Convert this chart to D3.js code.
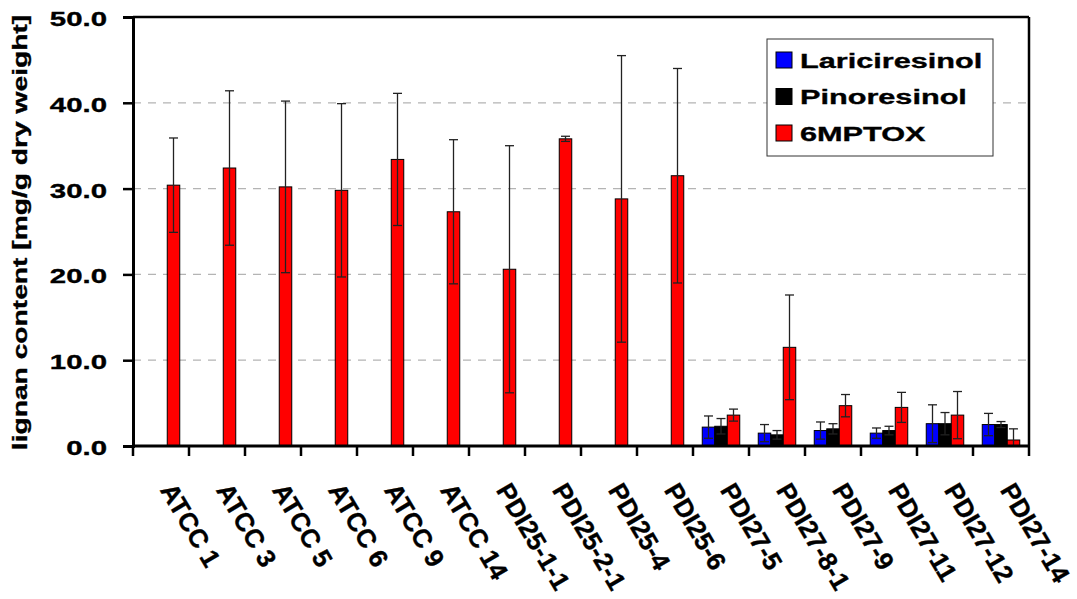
<!DOCTYPE html>
<html>
<head>
<meta charset="utf-8">
<script src="https://cdn.jsdelivr.net/npm/d3@7"></script>
<style>
  html, body { margin: 0; padding: 0; background: #fff; }
  svg { display: block; font-family: "Liberation Sans", Arial, sans-serif; }
  text.lbl { font-weight: bold; fill: #000; stroke: #000; stroke-width: 0.35px; }
</style>
</head>
<body>
<svg id="chart" width="1077" height="599"></svg>
<script>
const categories = ["ATCC 1","ATCC 3","ATCC 5","ATCC 6","ATCC 9","ATCC 14","PDI25-1-1","PDI25-2-1","PDI25-4","PDI25-6","PDI27-5","PDI27-8-1","PDI27-9","PDI27-11","PDI27-12","PDI27-14"];
const seriesNames = ["Lariciresinol","Pinoresinol","6MPTOX"];
const seriesColors = ["#0000FF","#000000","#FF0000"];
const lariciresinol = [null,null,null,null,null,null,null,null,null,null,2.2,1.5,1.8,1.5,2.6,2.5];
const lariciresinolErr = [null,null,null,null,null,null,null,null,null,null,1.3,1.0,1.0,0.6,2.2,1.3];
const pinoresinol = [null,null,null,null,null,null,null,null,null,null,2.3,1.3,2.0,1.8,2.6,2.5];
const pinoresinolErr = [null,null,null,null,null,null,null,null,null,null,0.9,0.5,0.6,0.5,1.3,0.35];
const mptox = [30.4,32.4,30.2,29.8,33.4,27.3,20.6,35.8,28.8,31.5,3.6,11.5,4.7,4.5,3.6,0.7];
const mptoxErr = [5.5,9.0,10.0,10.1,7.7,8.4,14.4,0.3,16.7,12.5,0.7,6.1,1.3,1.75,2.75,1.3];
const yTicks = [0,10,20,30,40,50];
const yTitle = "lignan content [mg/g dry weight]";

const values = [lariciresinol, pinoresinol, mptox];
const errors = [lariciresinolErr, pinoresinolErr, mptoxErr];

const svg = d3.select("#chart");
const mLeft = 133, mRight = 1029, mTop = 17, mBottom = 446;

const x = d3.scaleBand().domain(categories).range([mLeft, mRight]).padding(0);
const xInner = d3.scaleBand().domain(seriesNames).range([0, x.bandwidth()]).paddingInner(0).paddingOuter(0.74);
const y = d3.scaleLinear().domain([0, 50]).range([mBottom, mTop]);

// gridlines
svg.append("g").selectAll("line").data(yTicks.filter(t => t > 0 && t < 50)).join("line")
  .attr("x1", mLeft).attr("x2", mRight)
  .attr("y1", d => y(d)).attr("y2", d => y(d))
  .attr("stroke", "#b4b4b4").attr("stroke-width", 1.2).attr("stroke-dasharray", "8,7");

// bars
const records = [];
categories.forEach((c, i) => {
  seriesNames.forEach((s, j) => {
    const v = values[j][i];
    if (v != null) records.push({c, s, j, v, e: errors[j][i]});
  });
});

svg.append("g").selectAll("rect").data(records).join("rect")
  .attr("x", d => x(d.c) + xInner(d.s))
  .attr("width", xInner.bandwidth())
  .attr("y", d => y(d.v))
  .attr("height", d => y(0) - y(d.v))
  .attr("fill", d => seriesColors[d.j])
  .attr("stroke", "#000").attr("stroke-width", 1);

// error bars
const eg = svg.append("g").attr("stroke", "#222").attr("stroke-width", 1.3);
records.filter(d => d.e != null).forEach(d => {
  const cx = x(d.c) + xInner(d.s) + xInner.bandwidth() / 2;
  const y1 = y(d.v + d.e), y2 = y(Math.max(0, d.v - d.e));
  eg.append("line").attr("x1", cx).attr("x2", cx).attr("y1", y1).attr("y2", y2);
  eg.append("line").attr("x1", cx - 4.5).attr("x2", cx + 4.5).attr("y1", y1).attr("y2", y1);
  eg.append("line").attr("x1", cx - 4.5).attr("x2", cx + 4.5).attr("y1", y2).attr("y2", y2);
});

// y axis
const yAxis = d3.axisLeft(y).tickValues(yTicks).tickSize(10).tickFormat(d3.format(".1f"));
const gy = svg.append("g").attr("transform", `translate(${mLeft},0)`).call(yAxis);
gy.select(".domain").attr("stroke", "#000").attr("stroke-width", 3);
gy.selectAll(".tick line").attr("stroke", "#000").attr("stroke-width", 2.5);
gy.selectAll(".tick text").remove();
gy.selectAll(".tick").append("text").attr("class", "lbl")
  .attr("transform", `translate(-26,8.5) scale(1.4,1)`)
  .attr("text-anchor", "end")
  .attr("font-size", 21)
  .text(d => d3.format(".1f")(d));

// x axis with boundary ticks
const xb = d3.scaleLinear().domain([0, categories.length]).range([mLeft, mRight]);
const gx = svg.append("g");
gx.append("line").attr("x1", mLeft).attr("x2", mRight).attr("y1", mBottom).attr("y2", mBottom)
  .attr("stroke", "#000").attr("stroke-width", 3);
gx.selectAll("line.t").data(d3.range(categories.length + 1)).join("line").attr("class", "t")
  .attr("x1", d => xb(d)).attr("x2", d => xb(d))
  .attr("y1", mBottom).attr("y2", mBottom + 10)
  .attr("stroke", "#000").attr("stroke-width", 2.5);
gx.selectAll("text").data(categories).join("text").attr("class", "lbl")
  .attr("transform", d => `translate(${x(d) + x.bandwidth()/2 - 1.5},490) rotate(59.5)`)
  .attr("font-size", 26)
  .text(d => d);

// top and right border
svg.append("line").attr("x1", mLeft).attr("x2", mRight).attr("y1", mTop).attr("y2", mTop)
  .attr("stroke", "#000").attr("stroke-width", 2.5);
svg.append("line").attr("x1", mRight).attr("x2", mRight).attr("y1", mTop).attr("y2", mBottom)
  .attr("stroke", "#000").attr("stroke-width", 2.5);

// y title
svg.append("text").attr("class", "lbl")
  .attr("transform", `translate(27,${(mTop + mBottom)/2 + 1}) rotate(-90) scale(1.41,1)`)
  .attr("text-anchor", "middle")
  .attr("font-size", 20)
  .text(yTitle);

// legend
const lg = svg.append("g").attr("transform", "translate(767,39)");
lg.append("rect").attr("width", 226).attr("height", 117).attr("fill", "#fff")
  .attr("stroke", "#333").attr("stroke-width", 1);
const rows = lg.selectAll("g.row").data(seriesNames).join("g").attr("class", "row")
  .attr("transform", (d, i) => `translate(9,${21 + i * 36.5})`);
rows.append("rect").attr("x", 0).attr("y", -8).attr("width", 16).attr("height", 16)
  .attr("fill", (d, i) => seriesColors[i]).attr("stroke", "#000").attr("stroke-width", 1);
rows.append("text").attr("class", "lbl")
  .attr("transform", `translate(24,7.5) scale(1.46,1)`)
  .attr("font-size", 21)
  .text(d => d);
</script>
</body>
</html>
